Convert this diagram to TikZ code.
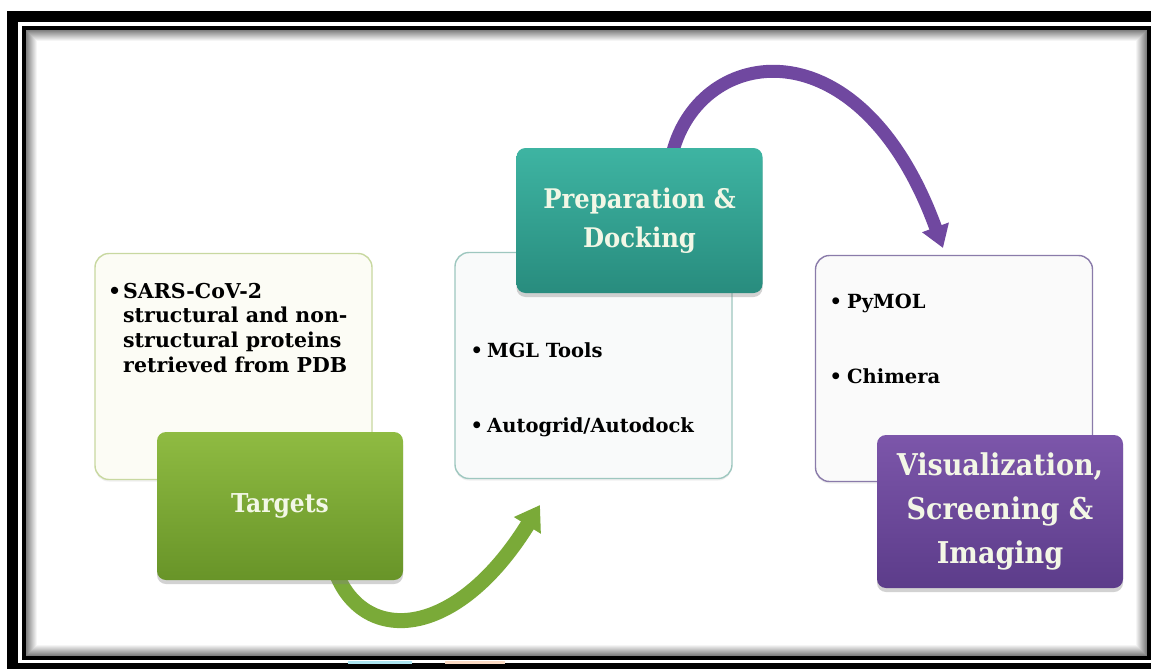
\documentclass[tikz,border=0pt]{standalone}
\usepackage{fontspec}
\setmainfont{DejaVu Serif}
\newfontfamily\titlefont{DejaVu Serif Condensed}
\usetikzlibrary{shadows,arrows.meta,calc}
\definecolor{gtop}{RGB}{143,187,66}
\definecolor{gbot}{RGB}{104,148,40}
\definecolor{garr}{RGB}{122,170,56}
\definecolor{ttop}{RGB}{62,180,162}
\definecolor{tbot}{RGB}{40,140,126}
\definecolor{ptop}{RGB}{124,86,170}
\definecolor{pbot}{RGB}{92,60,138}
\definecolor{parr}{RGB}{112,72,160}
\definecolor{lgreen}{RGB}{200,216,160}
\definecolor{lteal}{RGB}{158,199,191}
\definecolor{lpurp}{RGB}{138,123,170}
\definecolor{fgreen}{RGB}{252,252,245}
\definecolor{fteal}{RGB}{249,250,250}
\definecolor{fpurp}{RGB}{250,250,250}
\definecolor{tcream}{RGB}{243,247,230}
\definecolor{bcyan}{RGB}{170,228,240}
\definecolor{bpeach}{RGB}{250,217,194}
\pgfdeclarelayer{frame}
\pgfdeclarelayer{bg}
\pgfsetlayers{frame,bg,main}
\begin{document}
\begin{tikzpicture}[x=1pt,y=-1pt,
  listbox/.style 2 args={draw=#1, fill=#2, line width=1.4pt, rounded corners=14pt,
    minimum width=277pt, minimum height=226pt, inner sep=0pt,
    drop shadow={shadow xshift=0pt, shadow yshift=-2pt, opacity=0.12}},
  titlebox/.style={rounded corners=9pt, minimum width=246pt, inner sep=0pt,
    text=tcream, align=center, font=\titlefont\bfseries\fontsize{27}{39}\selectfont,
    drop shadow={shadow xshift=0pt, shadow yshift=-4pt, opacity=0.35}},
  item/.style={anchor=base west, inner sep=0pt, font=\bfseries\fontsize{19.5}{24.7}\selectfont},
  garrow/.style={draw=garr, line width=15pt, -{Triangle[width=30pt,length=24pt]}},
  parrow/.style={draw=parr, line width=13pt, -{Triangle[width=27pt,length=22pt]}}]
\useasboundingbox (0,0) rectangle (1151,669);
\begin{pgfonlayer}{frame}
\fill[black] (7,11) rectangle (1151,669);
\fill[white] (18,22) rectangle (1151,663);
\fill[bcyan] (348,661) rectangle (412,664);
\fill[bpeach] (445,661) rectangle (505,664);
\foreach \i in {0,...,10}{
  \pgfmathsetmacro\c{50-4.6*\i}
  \draw[black!\c, line width=1pt] (26.5+\i,30.5+\i) rectangle (1146.5-\i,655.5-\i);
}
\draw[black, line width=4pt] (24,28) rectangle (1149,658);
\end{pgfonlayer}

% list boxes
\node[listbox={lgreen}{fgreen}] (lbox) at (233.5,366.5) {};
\node[listbox={lteal}{fteal}] (mbox) at (593.5,365.5) {};
\node[listbox={lpurp}{fpurp}] (rbox) at (954,368.5) {};

\node[item, font=\bfseries\fontsize{20.5}{24.7}\selectfont] (l1) at (123,298) {\begin{tabular}[t]{@{}l@{}}\llap{•\hspace{2pt}}SARS-CoV-2\\ structural and non-\\ structural proteins\\ retrieved from PDB\end{tabular}};
\node[item] (m1) at (487,357) {\llap{•\hspace{4pt}}MGL Tools};
\node[item] (m2) at (487,432) {\llap{•\hspace{4pt}}Autogrid/Autodock};
\node[item] (r1) at (847,308) {\llap{•\hspace{5pt}}PyMOL};
\node[item] (r2) at (847,383) {\llap{•\hspace{5pt}}Chimera};

% title boxes
\node[titlebox, top color=gtop, bottom color=gbot, minimum height=148pt,
  font=\titlefont\bfseries\fontsize{26}{34}\selectfont] (tgt) at (280,506) {Targets};
\node[titlebox, top color=ttop, bottom color=tbot, minimum height=145pt] (prep) at (639.5,220.5) {Preparation \&\\Docking};
\node[titlebox, top color=ptop, bottom color=pbot, minimum height=153pt,
  font=\titlefont\bfseries\fontsize{30}{44}\selectfont] (vis) at (1000,511.5) {Visualization,\\Screening \&\\Imaging};

% arrows
\coordinate (g1) at (540,505);
\coordinate (p1) at (943,248);
\begin{pgfonlayer}{bg}
\draw[garrow] ($(tgt.south)+(55,-10)$) .. controls (362,645) and (455,642) .. (g1);
\draw[parrow] ($(prep.north)+(33,5)$) .. controls (700,45) and (860,20) .. (p1);
\end{pgfonlayer}
\end{tikzpicture}
\end{document}
